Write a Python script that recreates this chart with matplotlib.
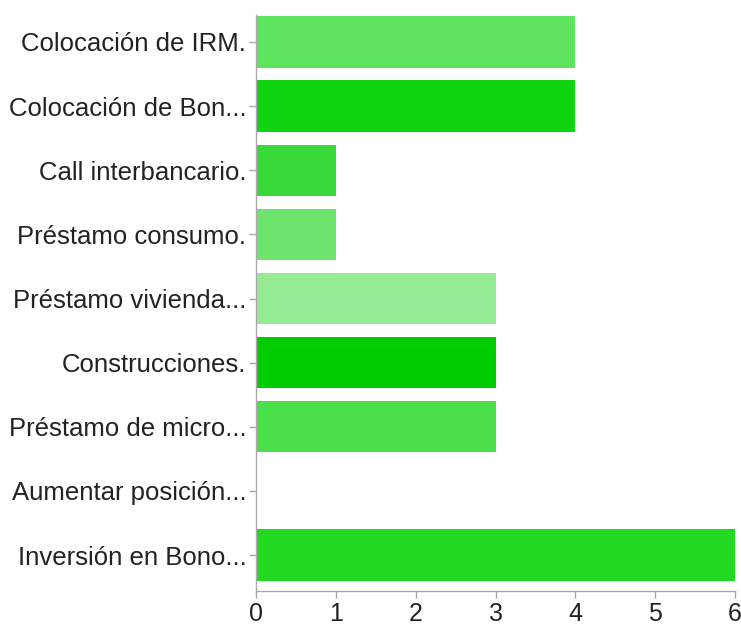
import matplotlib
matplotlib.use("Agg")
import matplotlib.pyplot as plt

categories = ["Colocación de IRM.", "Colocación de Bon...", "Call interbancario.",
              "Préstamo consumo.", "Préstamo vivienda...", "Construcciones.",
              "Préstamo de micro...", "Aumentar posición...", "Inversión en Bono..."]
values = [4, 4, 1, 1, 3, 3, 3, 0, 6]
colors = ["#5ee35e", "#11d411", "#38d938", "#6ee46e", "#94eb94", "#00cc00",
          "#4cdf4c", "#4cdf4c", "#22d822"]
xticks = [0, 1, 2, 3, 4, 5, 6]

plt.rcParams['font.family'] = ['Liberation Sans', 'DejaVu Sans']
fig = plt.figure(figsize=(7.41, 6.26), dpi=100)
ax = fig.add_axes([256/741, 35/626, 479/741, 576/626])
ypos = list(range(len(categories)))
ax.barh(ypos, values, height=0.8, color=colors)
ax.set_xlim(0, 6)
ax.set_ylim(8.56, -0.42)
ax.set_yticks(ypos)
ax.set_yticklabels(categories, fontsize=18.5, color="#222222")
ax.set_xticks(xticks)
ax.set_xticklabels([str(t) for t in xticks], fontsize=18, color="#222222")
for s in ["top", "right"]:
    ax.spines[s].set_visible(False)
for s in ["left", "bottom"]:
    ax.spines[s].set_color("#aaaaaa")
    ax.spines[s].set_linewidth(1)
ax.tick_params(axis="both", colors="#aaaaaa", labelcolor="#222222", length=5, width=1)
ax.tick_params(axis="y", pad=2)
ax.tick_params(axis="x", pad=3)
fig.savefig("out.png", dpi=100)
